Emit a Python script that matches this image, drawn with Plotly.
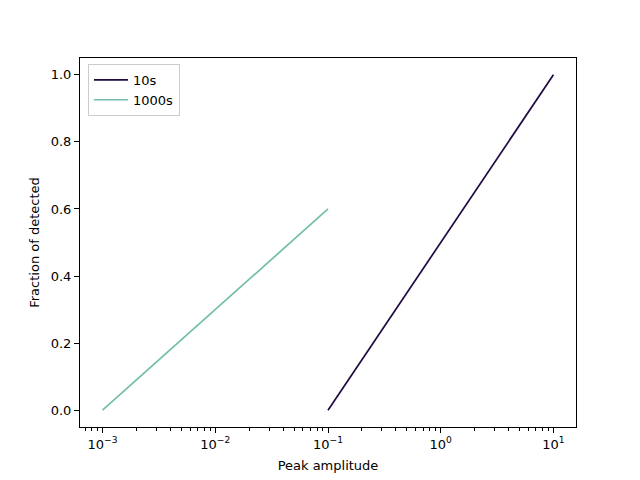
import plotly.graph_objects as go

# data
x_10s = [0.1, 10]
y_10s = [0.0, 1.0]
x_1000s = [0.001, 0.1]
y_1000s = [0.0, 0.6]
names = ["10s", "1000s"]
colors = ["#1d0b41", "#73bdab"]

xtick_vals = [1e-3, 1e-2, 1e-1, 1e0, 1e1]
xtick_text = ["10<sup>\u22123</sup>", "10<sup>\u22122</sup>", "10<sup>\u22121</sup>", "10<sup>0</sup>", "10<sup>1</sup>"]
ytick_vals = [0.0, 0.2, 0.4, 0.6, 0.8, 1.0]
ytick_text = ["0.0", "0.2", "0.4", "0.6", "0.8", "1.0"]

font = "DejaVu Sans"
fig = go.Figure()
fig.add_trace(go.Scatter(x=x_10s, y=y_10s, mode="lines", name=names[0],
                         line=dict(color=colors[0], width=1.7)))
fig.add_trace(go.Scatter(x=x_1000s, y=y_1000s, mode="lines", name=names[1],
                         line=dict(color=colors[1], width=1.7)))

fig.update_layout(
    width=640, height=480,
    margin=dict(l=80, r=64, t=58, b=53),
    paper_bgcolor="white", plot_bgcolor="white",
    font=dict(family=font, size=13, color="black"),
    showlegend=True,
    legend=dict(x=0.016, y=0.984, xanchor="left", yanchor="top",
                bordercolor="#cccccc", borderwidth=1, bgcolor="rgba(255,255,255,0.8)",
                font=dict(size=13), itemwidth=34, tracegroupgap=0),
)
fig.update_xaxes(type="log", range=[-3.2, 1.2], automargin=False,
                 tickvals=xtick_vals, ticktext=xtick_text,
                 showgrid=False, zeroline=False, showline=True, linecolor="black", linewidth=1,
                 mirror=True, ticks="outside", ticklen=5, tickwidth=1, tickcolor="black",
                 minor=dict(ticks="outside", ticklen=3, tickwidth=0.8, tickcolor="black", dtick="D1", showgrid=False),
                 title=dict(text="Peak amplitude", font=dict(size=13), standoff=10))
fig.update_yaxes(range=[-0.05, 1.05], automargin=False,
                 tickvals=ytick_vals, ticktext=ytick_text,
                 showgrid=False, zeroline=False, showline=True, linecolor="black", linewidth=1,
                 mirror=True, ticks="outside", ticklen=5, tickwidth=1, tickcolor="black",
                 title=dict(text="Fraction of detected", font=dict(size=13), standoff=8))

fig.write_html("out.html")
